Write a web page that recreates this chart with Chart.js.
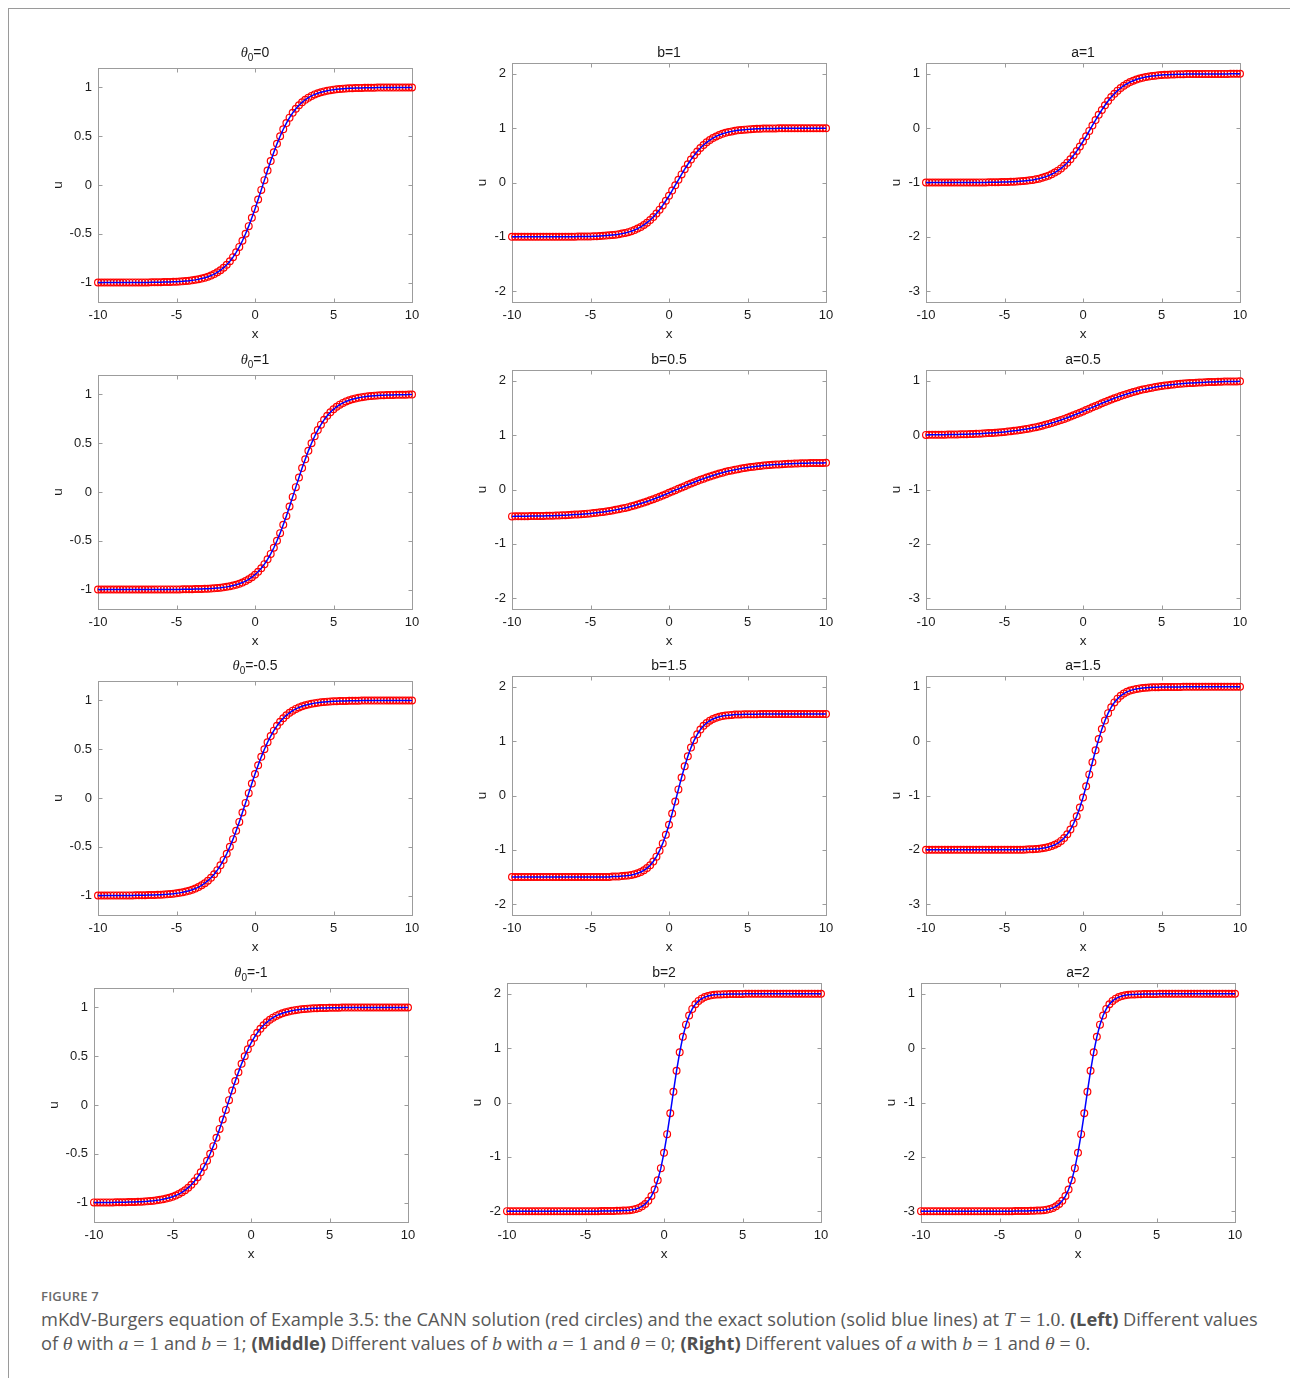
<!DOCTYPE html>
<html>
<head>
<meta charset="utf-8">
<script src="https://cdn.jsdelivr.net/npm/chart.js@4.4.1/dist/chart.umd.min.js"></script>
<style>
html,body{margin:0;padding:0;background:#fff;}
#page{position:relative;width:1290px;height:1378px;overflow:hidden;background:#fff;font-family:"Liberation Sans",Arial,Helvetica,sans-serif;}
#frame{position:absolute;left:8px;top:8px;width:1300px;height:1400px;border-top:1px solid #9a9a9a;border-left:1px solid #9a9a9a;}
.panel{position:absolute;}
.panel canvas{display:block;}
.ptitle{position:absolute;width:200px;text-align:center;font-size:14px;line-height:13px;color:#1a1a1a;white-space:nowrap;font-family:"Liberation Sans",Arial,sans-serif;}
.ptitle sub{font-size:10px;vertical-align:-4px;line-height:0;}
.ptitle i{font-family:"Liberation Serif","DejaVu Serif",serif;font-size:14.5px;}
#figlabel{position:absolute;left:41px;top:1288px;font-family:"Open Sans",sans-serif;font-weight:600;font-size:13px;line-height:16px;color:#6a6a6a;letter-spacing:0.2px;}
#cap{position:absolute;left:41px;top:1307px;font-family:"Open Sans",sans-serif;font-weight:400;color:#585858;white-space:nowrap;line-height:23px;font-size:16px;}
#cap b{font-weight:700;color:#505050;}
#cap .m{font-family:"Liberation Serif","DejaVu Serif",serif;font-size:1.08em;}
</style>
</head>
<body>
<div id="page">
<div id="frame"></div>
<div id="figlabel">FIGURE 7</div>
<div id="cap"><span id="capl1">mKdV-Burgers equation of Example 3.5: the CANN solution (red circles) and the exact solution (solid blue lines) at <span class="m"><i>T</i> = 1.0</span>. <b>(Left)</b> Different values</span><br>of <span class="m"><i>θ</i></span> with <span class="m"><i>a</i> = 1</span> and <span class="m"><i>b</i> = 1</span>; <b>(Middle)</b> Different values of <span class="m"><i>b</i></span> with <span class="m"><i>a</i> = 1</span> and <span class="m"><i>θ</i> = 0</span>; <b>(Right)</b> Different values of <span class="m"><i>a</i></span> with <span class="m"><i>b</i> = 1</span> and <span class="m"><i>θ</i> = 0</span>.</div>
</div>
<script>
// ---------------- DATA ----------------
const X_VALUES = [-10,-9.8,-9.6,-9.4,-9.2,-9,-8.8,-8.6,-8.4,-8.2,
-8,-7.8,-7.6,-7.4,-7.2,-7,-6.8,-6.6,-6.4,-6.2,
-6,-5.8,-5.6,-5.4,-5.2,-5,-4.8,-4.6,-4.4,-4.2,
-4,-3.8,-3.6,-3.4,-3.2,-3,-2.8,-2.6,-2.4,-2.2,
-2,-1.8,-1.6,-1.4,-1.2,-1,-0.8,-0.6,-0.4,-0.2,
0,0.2,0.4,0.6,0.8,1,1.2,1.4,1.6,1.8,
2,2.2,2.4,2.6,2.8,3,3.2,3.4,3.6,3.8,
4,4.2,4.4,4.6,4.8,5,5.2,5.4,5.6,5.8,
6,6.2,6.4,6.6,6.8,7,7.2,7.4,7.6,7.8,
8,8.2,8.4,8.6,8.8,9,9.2,9.4,9.6,9.8,
10];

const X_TICKS = [-10,-5,0,5,10];
const X_RANGE = [-10,10];

const THETA_LABELS = ['0','1','-0.5','-1'];
const B_LABELS = ['1','0.5','1.5','2'];
const A_LABELS = ['1','0.5','1.5','2'];

const Y_TICKS_THETA = [-1,-0.5,0,0.5,1];
const Y_TICKS_B = [-2,-1,0,1,2];
const Y_TICKS_A = [-3,-2,-1,0,1];
const Y_RANGE_THETA = [-1.2,1.2];
const Y_RANGE_B = [-2.2,2.2];
const Y_RANGE_A = [-3.2,1.2];

// theta_0 = 0
const U_THETA_0 = [-1,-1,-1,-1,-1,-1,-1,-1,-1,
-0.999,-0.999,-0.999,-0.999,-0.999,-0.999,-0.999,-0.999,-0.998,-0.998,
-0.998,-0.997,-0.996,-0.996,-0.995,-0.993,-0.992,-0.990,-0.988,-0.985,
-0.982,-0.978,-0.973,-0.967,-0.960,-0.952,-0.941,-0.929,-0.914,-0.896,
-0.874,-0.848,-0.818,-0.782,-0.740,-0.691,-0.635,-0.572,-0.500,-0.422,
-0.336,-0.245,-0.149,-0.050,
0.050,0.149,0.245,0.336,0.422,0.500,0.572,0.635,0.691,0.740,
0.782,0.818,0.848,0.874,0.896,0.914,0.929,0.941,0.952,0.960,
0.967,0.973,0.978,0.982,0.985,0.988,0.990,0.992,0.993,0.995,
0.996,0.996,0.997,0.998,0.998,0.998,0.999,0.999,0.999,0.999,
0.999,0.999,0.999,0.999,
1,1,1,1];

// theta_0 = 1
const U_THETA_1 = [-1,-1,-1,-1,-1,-1,-1,-1,-1,-1,
-1,-1,-1,-1,-1,-1,-1,-1,-1,
-0.999,-0.999,-0.999,-0.999,-0.999,-0.999,-0.999,-0.999,-0.998,-0.998,
-0.998,-0.997,-0.996,-0.996,-0.995,-0.993,-0.992,-0.990,-0.988,-0.985,
-0.982,-0.978,-0.973,-0.967,-0.960,-0.952,-0.941,-0.929,-0.914,-0.896,
-0.874,-0.848,-0.818,-0.782,-0.740,-0.691,-0.635,-0.572,-0.500,-0.422,
-0.336,-0.245,-0.149,-0.050,
0.050,0.149,0.245,0.336,0.422,0.500,0.572,0.635,0.691,0.740,
0.782,0.818,0.848,0.874,0.896,0.914,0.929,0.941,0.952,0.960,
0.967,0.973,0.978,0.982,0.985,0.988,0.990,0.992,0.993,0.995,
0.996,0.996,0.997,0.998,0.998,0.998,0.999,0.999];

// theta_0 = -0.5
const U_THETA_M05 = [-1,-1,-1,-1,
-0.999,-0.999,-0.999,-0.999,-0.999,-0.999,-0.999,-0.999,-0.998,-0.998,
-0.998,-0.997,-0.996,-0.996,-0.995,-0.993,-0.992,-0.990,-0.988,-0.985,
-0.982,-0.978,-0.973,-0.967,-0.960,-0.952,-0.941,-0.929,-0.914,-0.896,
-0.874,-0.848,-0.818,-0.782,-0.740,-0.691,-0.635,-0.572,-0.500,-0.422,
-0.336,-0.245,-0.149,-0.050,
0.050,0.149,0.245,0.336,0.422,0.500,0.572,0.635,0.691,0.740,
0.782,0.818,0.848,0.874,0.896,0.914,0.929,0.941,0.952,0.960,
0.967,0.973,0.978,0.982,0.985,0.988,0.990,0.992,0.993,0.995,
0.996,0.996,0.997,0.998,0.998,0.998,0.999,0.999,0.999,0.999,
0.999,0.999,0.999,0.999,
1,1,1,1,1,1,1,1,1];

// theta_0 = -1
const U_THETA_M1 = [-0.999,-0.999,-0.999,-0.999,-0.999,-0.999,-0.999,-0.998,-0.998,
-0.998,-0.997,-0.996,-0.996,-0.995,-0.993,-0.992,-0.990,-0.988,-0.985,
-0.982,-0.978,-0.973,-0.967,-0.960,-0.952,-0.941,-0.929,-0.914,-0.896,
-0.874,-0.848,-0.818,-0.782,-0.740,-0.691,-0.635,-0.572,-0.500,-0.422,
-0.336,-0.245,-0.149,-0.050,
0.050,0.149,0.245,0.336,0.422,0.500,0.572,0.635,0.691,0.740,
0.782,0.818,0.848,0.874,0.896,0.914,0.929,0.941,0.952,0.960,
0.967,0.973,0.978,0.982,0.985,0.988,0.990,0.992,0.993,0.995,
0.996,0.996,0.997,0.998,0.998,0.998,0.999,0.999,0.999,0.999,
0.999,0.999,0.999,0.999,
1,1,1,1,1,1,1,1,1,1,
1,1,1,1];

// b = 1
const U_B_1 = [-1,-1,-1,-1,-1,-1,-1,-1,-1,
-0.999,-0.999,-0.999,-0.999,-0.999,-0.999,-0.999,-0.999,-0.998,-0.998,
-0.998,-0.997,-0.996,-0.996,-0.995,-0.993,-0.992,-0.990,-0.988,-0.985,
-0.982,-0.978,-0.973,-0.967,-0.960,-0.952,-0.941,-0.929,-0.914,-0.896,
-0.874,-0.848,-0.818,-0.782,-0.740,-0.691,-0.635,-0.572,-0.500,-0.422,
-0.336,-0.245,-0.149,-0.050,
0.050,0.149,0.245,0.336,0.422,0.500,0.572,0.635,0.691,0.740,
0.782,0.818,0.848,0.874,0.896,0.914,0.929,0.941,0.952,0.960,
0.967,0.973,0.978,0.982,0.985,0.988,0.990,0.992,0.993,0.995,
0.996,0.996,0.997,0.998,0.998,0.998,0.999,0.999,0.999,0.999,
0.999,0.999,0.999,0.999,
1,1,1,1];

// b = 0.5
const U_B_05 = [-0.495,-0.494,-0.493,-0.493,-0.492,-0.491,-0.490,-0.489,-0.488,-0.487,
-0.486,-0.484,-0.483,-0.481,-0.479,-0.477,-0.474,-0.472,-0.469,-0.466,
-0.462,-0.459,-0.455,-0.450,-0.445,-0.440,-0.434,-0.427,-0.420,-0.413,
-0.404,-0.395,-0.386,-0.375,-0.364,-0.352,-0.339,-0.325,-0.310,-0.294,
-0.277,-0.259,-0.240,-0.221,-0.200,-0.179,-0.157,-0.134,-0.110,-0.087,
-0.062,-0.037,-0.012,
0.012,0.037,0.062,0.087,0.110,0.134,0.157,0.179,0.200,0.221,
0.240,0.259,0.277,0.294,0.310,0.325,0.339,0.352,0.364,0.375,
0.386,0.395,0.404,0.413,0.420,0.427,0.434,0.440,0.445,0.450,
0.455,0.459,0.462,0.466,0.469,0.472,0.474,0.477,0.479,0.481,
0.483,0.484,0.486,0.487,0.488,0.489,0.490,0.491];

// b = 1.5
const U_B_15 = [-1.5,-1.5,-1.5,-1.5,-1.5,-1.5,-1.5,-1.5,-1.5,-1.5,
-1.5,-1.5,-1.5,-1.5,-1.5,-1.5,-1.5,-1.5,-1.5,-1.5,
-1.5,-1.5,-1.5,-1.5,-1.5,-1.5,-1.5,-1.5,-1.5,-1.5,
-1.5,-1.5,
-1.493,-1.491,-1.489,-1.484,-1.479,-1.472,-1.462,-1.449,-1.431,-1.408,
-1.377,-1.336,-1.283,-1.214,-1.126,-1.016,-0.882,-0.722,-0.538,-0.332,-0.112,
0.112,0.332,0.538,0.722,0.882,1.016,1.126,1.214,1.283,1.336,
1.377,1.408,1.431,1.449,1.462,1.472,1.479,1.484,1.489,1.491,1.493,
1.495,1.496,1.497,1.498,1.498,1.499,1.499,1.499,1.5,1.5,
1.5,1.5,1.5,1.5,1.5,1.5,1.5,1.5,1.5,1.5,
1.5,1.5,1.5,1.5,1.5,1.5,1.5];

// b = 2
const U_B_2 = [-2,-2,-2,-2,-2,-2,-2,-2,-2,-2,
-2,-2,-2,-2,-2,-2,-2,-2,-2,-2,
-2,-2,-2,-2,-2,-2,-2,-2,-2,-2,
-1.999,-1.999,-1.998,-1.997,-1.996,-1.995,
-1.993,-1.990,-1.988,-1.982,-1.973,-1.960,-1.940,-1.912,-1.870,-1.810,
-1.723,-1.601,-1.433,-1.209,-0.924,-0.583,-0.199,
0.199,0.583,0.924,1.209,1.433,1.601,1.723,1.810,1.870,1.912,
1.940,1.960,1.973,1.982,1.988,1.990,1.993,
1.995,1.996,1.997,1.998,1.999,1.999,2,2,2,2,
2,2,2,2,2,2,2,2,2,2,
2,2,2,2,2,2,2,2,2,2,
2];

// a = 1
const U_A_1 = [-1,-1,-1,-1,-1,-1,-1,-1,-1,
-0.999,-0.999,-0.999,-0.999,-0.999,-0.999,-0.999,-0.999,-0.998,-0.998,
-0.998,-0.997,-0.996,-0.996,-0.995,-0.993,-0.992,-0.990,-0.988,-0.985,
-0.982,-0.978,-0.973,-0.967,-0.960,-0.952,-0.941,-0.929,-0.914,-0.896,
-0.874,-0.848,-0.818,-0.782,-0.740,-0.691,-0.635,-0.572,-0.500,-0.422,
-0.336,-0.245,-0.149,-0.050,
0.050,0.149,0.245,0.336,0.422,0.500,0.572,0.635,0.691,0.740,
0.782,0.818,0.848,0.874,0.896,0.914,0.929,0.941,0.952,0.960,
0.967,0.973,0.978,0.982,0.985,0.988,0.990,0.992,0.993,0.995,
0.996,0.996,0.997,0.998,0.998,0.998,0.999,0.999,0.999,0.999,
0.999,0.999,0.999,0.999,
1,1,1,1];

// a = 0.5
const U_A_05 = [0.005,0.006,0.007,0.007,0.008,0.009,0.010,0.011,0.012,0.013,
0.014,0.016,0.017,0.019,0.021,0.023,0.026,0.028,0.031,0.034,
0.038,0.041,0.045,0.050,0.055,0.060,0.066,0.073,0.080,0.087,
0.096,0.105,0.114,0.125,0.136,0.148,0.161,0.175,0.190,0.206,
0.223,0.241,0.260,0.279,0.300,0.321,0.343,0.366,0.390,0.413,
0.438,0.463,0.488,
0.512,0.537,0.562,0.587,0.610,0.634,0.657,0.679,0.700,0.721,
0.740,0.759,0.777,0.794,0.810,0.825,0.839,0.852,0.864,0.875,
0.886,0.895,0.904,0.913,0.920,0.927,0.934,0.940,0.945,0.950,
0.955,0.959,0.962,0.966,0.969,0.972,0.974,0.977,0.979,0.981,
0.983,0.984,0.986,0.987,0.988,0.989,0.990,0.991];

// a = 1.5
const U_A_15 = [-2,-2,-2,-2,-2,-2,-2,-2,-2,-2,
-2,-2,-2,-2,-2,-2,-2,-2,-2,-2,
-2,-2,-2,-2,-2,-2,-2,-2,-2,-2,
-2,-2,
-1.993,-1.991,-1.989,-1.984,-1.979,-1.972,-1.962,-1.949,-1.931,-1.908,
-1.877,-1.836,-1.783,-1.714,-1.626,-1.516,-1.382,-1.222,-1.038,-0.832,-0.612,
-0.388,-0.168,0.038,0.222,0.382,0.516,0.626,0.714,0.783,0.836,
0.877,0.908,0.931,0.949,0.962,0.972,0.979,0.984,0.989,0.991,0.993,
0.995,0.996,0.997,0.998,0.998,0.999,0.999,0.999,1,1,
1,1,1,1,1,1,1,1,1,1,
1,1,1,1,1,1,1];

// a = 2
const U_A_2 = [-3,-3,-3,-3,-3,-3,-3,-3,-3,-3,
-3,-3,-3,-3,-3,-3,-3,-3,-3,-3,
-3,-3,-3,-3,-3,-3,-3,-3,-3,-3,
-2.999,-2.999,-2.998,-2.997,-2.996,-2.995,
-2.993,-2.990,-2.988,-2.982,-2.973,-2.960,-2.940,-2.912,-2.870,-2.810,
-2.723,-2.601,-2.433,-2.209,-1.924,-1.583,-1.199,
-0.801,-0.417,-0.076,0.209,0.433,0.601,0.723,0.810,0.870,0.912,
0.940,0.960,0.973,0.982,0.988,0.990,0.993,
0.995,0.996,0.997,0.998,0.999,0.999,1,1,1,1,
1,1,1,1,1,1,1,1,1,1,
1,1,1,1,1,1,1,1,1,1,
1];

// ---------------- LAYOUT / STYLE ----------------
const FONT = '"Liberation Sans", Arial, Helvetica, sans-serif';
const TEXT_COLOR = '#1c1c1c';
const AXIS_COLOR = '#9c9c9c';
const PW = 314;
const PADL = 60, PADT = 20, PADR = 20, PADB = 50;
const COL_LEFT = [[98,512,926],[98,512,926],[98,512,926],[94,507,921]];
const ROW_BOTTOM = [302,609,915,1222];
const COL_HEIGHT = [234,239,239];
const COL_UGAP = [39.5,29.5,29.5];
const TITLE_BASE_OFFSET = [10.7,5.5,5.5];

const columns = [
  {labels: THETA_LABELS, series: [U_THETA_0,U_THETA_1,U_THETA_M05,U_THETA_M1], yRange: Y_RANGE_THETA, yTicks: Y_TICKS_THETA,
   title: v => '<i>θ</i><sub>0</sub>=' + v},
  {labels: B_LABELS, series: [U_B_1,U_B_05,U_B_15,U_B_2], yRange: Y_RANGE_B, yTicks: Y_TICKS_B,
   title: v => 'b=' + v},
  {labels: A_LABELS, series: [U_A_1,U_A_05,U_A_15,U_A_2], yRange: Y_RANGE_A, yTicks: Y_TICKS_A,
   title: v => 'a=' + v}
];

columns.forEach(c => c.series.forEach((s, i) => {
  if (s.length !== X_VALUES.length) throw new Error('length mismatch ' + c.labels[i] + ': ' + s.length);
}));

const boxPlugin = {
  id: 'matlabBox',
  beforeDatasetsDraw(chart) {
    const {ctx, chartArea: a, scales: {x, y}} = chart;
    const l = Math.round(a.left) + 0.5, r = Math.round(a.right) + 0.5;
    const t = Math.round(a.top) + 0.5, b = Math.round(a.bottom) + 0.5;
    ctx.save();
    ctx.strokeStyle = AXIS_COLOR;
    ctx.lineWidth = 1;
    ctx.strokeRect(l, t, r - l, b - t);
    ctx.beginPath();
    x.ticks.forEach(tk => {
      const p = Math.round(x.getPixelForValue(tk.value)) + 0.5;
      ctx.moveTo(p, b); ctx.lineTo(p, b - 4);
      ctx.moveTo(p, t); ctx.lineTo(p, t + 4);
    });
    y.ticks.forEach(tk => {
      const p = Math.round(y.getPixelForValue(tk.value)) + 0.5;
      ctx.moveTo(l, p); ctx.lineTo(l + 4, p);
      ctx.moveTo(r, p); ctx.lineTo(r - 4, p);
    });
    ctx.stroke();
    ctx.restore();
  }
};

const page = document.getElementById('page');

for (let r = 0; r < 4; r++) {
  for (let c = 0; c < 3; c++) {
    const col = columns[c];
    const L = COL_LEFT[r][c];
    const B = ROW_BOTTOM[r];
    const H = COL_HEIGHT[c];
    const T = B - H;
    const wrap = document.createElement('div');
    wrap.className = 'panel';
    wrap.style.left = (L - PADL) + 'px';
    wrap.style.top = (T - PADT) + 'px';
    const cv = document.createElement('canvas');
    cv.width = PW + PADL + PADR;
    cv.height = H + PADT + PADB;
    cv.style.width = cv.width + 'px';
    cv.style.height = cv.height + 'px';
    wrap.appendChild(cv);
    page.appendChild(wrap);

    const u = col.series[r];
    const pts = X_VALUES.map((xv, i) => ({x: xv, y: u[i]}));
    const yTicks = col.yTicks;
    const uGap = COL_UGAP[c];

    new Chart(cv, {
      type: 'scatter',
      data: {
        datasets: [
          {label: 'Exact solution', data: pts, showLine: true, borderColor: '#0000ff', borderWidth: 1.5,
           pointRadius: 0, pointHoverRadius: 0, fill: false, tension: 0, clip: false, order: 0},
          {label: 'CANN solution', data: pts, showLine: false, pointStyle: 'circle', pointRadius: 3.4,
           pointHoverRadius: 3.4, borderColor: '#ff0000', backgroundColor: 'rgba(255,255,255,0)',
           pointBorderWidth: 1.2, borderWidth: 1.2, clip: false, order: 1}
        ]
      },
      options: {
        responsive: false,
        animation: false,
        devicePixelRatio: 1,
        events: [],
        layout: {padding: {left: 0, top: PADT, right: PADR, bottom: 0}},
        plugins: {legend: {display: false}, tooltip: {enabled: false}, title: {display: false}},
        scales: {
          x: {
            type: 'linear', position: 'bottom', min: X_RANGE[0], max: X_RANGE[1],
            afterBuildTicks: s => { s.ticks = X_TICKS.map(v => ({value: v})); },
            afterFit: s => { s.height = PADB; s.paddingLeft = 0; s.paddingRight = 0; s.paddingTop = 0; s.paddingBottom = 0; },
            grid: {display: false, drawTicks: false},
            border: {display: false},
            ticks: {padding: 6, color: TEXT_COLOR, font: {family: FONT, size: 13}, maxRotation: 0, minRotation: 0,
                    autoSkip: false, callback: v => String(v)},
            title: {display: true, text: 'x', color: TEXT_COLOR, font: {family: FONT, size: 13.5},
                    padding: {top: 0, bottom: 10}}
          },
          y: {
            type: 'linear', position: 'left', min: col.yRange[0], max: col.yRange[1],
            afterBuildTicks: s => { s.ticks = yTicks.map(v => ({value: v})); },
            afterFit: s => { s.width = PADL; s.paddingLeft = 0; s.paddingRight = 0; s.paddingTop = 0; s.paddingBottom = 0; },
            grid: {display: false, drawTicks: false},
            border: {display: false},
            ticks: {padding: 6, color: TEXT_COLOR, font: {family: FONT, size: 13}, autoSkip: false,
                    callback: v => String(v)},
            title: {display: true, text: 'u', color: TEXT_COLOR, font: {family: FONT, size: 13.5},
                    padding: {top: PADL - uGap - 8.1, bottom: 0}}
          }
        }
      },
      plugins: [boxPlugin]
    });

    const tdiv = document.createElement('div');
    tdiv.className = 'ptitle';
    tdiv.innerHTML = col.title(col.labels[r]);
    const baseline = T - TITLE_BASE_OFFSET[c];
    tdiv.style.left = (L + PW / 2 - 100) + 'px';
    tdiv.style.top = (baseline - 11.5) + 'px';
    page.appendChild(tdiv);
  }
}

// fit caption width to the reference line length
const cap = document.getElementById('cap');
const l1 = document.getElementById('capl1');
const w1 = l1.getBoundingClientRect().width;
if (w1 > 0) cap.style.fontSize = (16 * 1217 / w1) + 'px';
</script>
</body>
</html>
